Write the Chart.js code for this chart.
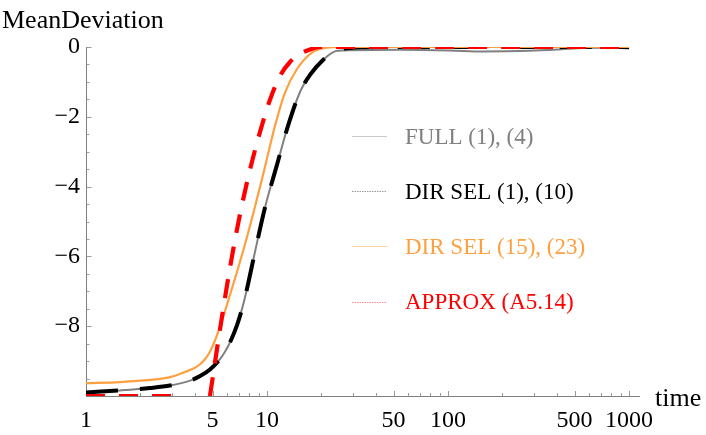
<!DOCTYPE html>
<html>
<head>
<meta charset="utf-8">
<script src="https://cdn.jsdelivr.net/npm/chart.js@4.4.1/dist/chart.umd.min.js"></script>
<style>
  html, body { margin: 0; padding: 0; background: #ffffff; }
  #wrap { width: 706px; height: 435px; position: relative; }
</style>
</head>
<body>
<div id="wrap"><canvas id="c" width="706" height="435"></canvas></div>
<script>
// ---------- data ----------
const fullT = [1, 1.54, 2.26, 2.91, 3.76, 4.27, 4.84, 5.5, 5.86, 6.25, 6.83, 7.37, 7.85, 8.59, 9.75, 11.36, 13.06, 15.22, 17.28, 20.39, 24.37, 28.74, 54, 102, 156, 283, 415, 557, 695, 1000];
const fullY = [-9.9, -9.84, -9.77, -9.7, -9.56, -9.43, -9.24, -8.94, -8.73, -8.46, -7.97, -7.4, -6.8, -5.86, -4.6, -3.37, -2.26, -1.29, -0.8, -0.37, -0.11, -0.09, -0.08, -0.1, -0.13, -0.11, -0.07, -0.03, -0.02, -0.04];

const dirSel1T = [1, 1.54, 2.26, 2.91, 3.76, 4.27, 4.84, 5.5, 5.86, 6.25, 6.83, 7.37, 7.85, 8.59, 9.75, 11.36, 13.06, 15.22, 17.28, 20.39, 24.37, 28.74, 40, 100, 1000];
const dirSel1Y = [-9.9, -9.84, -9.77, -9.7, -9.56, -9.43, -9.24, -8.94, -8.73, -8.46, -7.97, -7.4, -6.8, -5.86, -4.6, -3.37, -2.26, -1.29, -0.8, -0.37, -0.09, -0.03, 0, 0, 0];

const dirSel15T = [1, 1.54, 2.26, 2.91, 3.52, 4.0, 4.27, 4.55, 4.84, 5.16, 5.5, 5.86, 6.49, 7.56, 8.59, 9.75, 11.07, 12.57, 14.65, 17.96, 22.29, 26.97, 100, 1000];
const dirSel15Y = [-9.63, -9.6, -9.54, -9.46, -9.31, -9.19, -9.09, -8.94, -8.73, -8.41, -8.01, -7.57, -6.82, -5.65, -4.57, -3.43, -2.26, -1.31, -0.63, -0.14, -0.01, 0, 0, 0];

const approxT = [1, 2, 3, 4, 4.84, 5.5, 6.25, 7.09, 8.06, 9.15, 10.39, 11.8, 13.4, 15.22, 17.28, 19.63, 30, 100, 1000];
const approxY = [-10, -10, -10, null, -10, -8.09, -6.31, -4.8, -3.51, -2.43, -1.51, -0.83, -0.43, -0.2, -0.07, 0, 0, 0, 0];

const seriesNames = ['FULL (1), (4)', 'DIR SEL (1), (10)', 'DIR SEL (15), (23)', 'APPROX (A5.14)'];

const xMajorTicks = [1, 5, 10, 50, 100, 500, 1000];
const xMinorTicks = [2, 3, 4, 6, 7, 8, 9, 20, 30, 40, 60, 70, 80, 90, 200, 300, 400, 600, 700, 800, 900];
const yMajorTicks = [0, -2, -4, -6, -8];
const yMinorTicks = [-0.5, -1, -1.5, -2.5, -3, -3.5, -4.5, -5, -5.5, -6.5, -7, -7.5, -8.5, -9, -9.5];

const yAxisTitle = 'MeanDeviation';
const xAxisTitle = 'time';

// ---------- helpers ----------
const pts = (ts, ys) => ts.map((t, i) => ({ x: t, y: ys[i] }));
const FONT = '"Liberation Serif", "Times New Roman", serif';

const seriesColors = ['#808080', '#000000', '#FFA040', '#FF0000'];
const legendLineColors = ['#c8c8c8', '#9a9a9a', '#ffd0a0', '#ff9090'];
const legendDash = [[], [1.5, 1], [], [1.5, 1]];

const mmaPlugin = {
  id: 'mmaDecor',
  beforeDatasetsDraw(chart) {
    const { ctx, chartArea: a, scales: { x, y } } = chart;
    ctx.save();
    ctx.lineWidth = 1;
    const axX = Math.round(x.getPixelForValue(1)) + 0.5;
    const axY = Math.round(y.getPixelForValue(-10)) + 0.5;
    ctx.strokeStyle = '#7f7f7f';
    ctx.beginPath();
    ctx.moveTo(a.left, axY); ctx.lineTo(a.right, axY);
    ctx.moveTo(axX, Math.round(y.getPixelForValue(0))); ctx.lineTo(axX, axY);
    ctx.stroke();
    ctx.strokeStyle = '#9a9a9a';
    ctx.beginPath();
    for (const v of xMajorTicks) {
      const p = Math.round(x.getPixelForValue(v)) + 0.5;
      ctx.moveTo(p, axY); ctx.lineTo(p, axY - 5.5);
    }
    for (const v of xMinorTicks) {
      const p = Math.round(x.getPixelForValue(v)) + 0.5;
      ctx.moveTo(p, axY); ctx.lineTo(p, axY - 3.5);
    }
    for (const v of yMajorTicks) {
      const p = Math.round(y.getPixelForValue(v)) + 0.5;
      ctx.moveTo(axX, p); ctx.lineTo(axX + 5, p);
    }
    for (const v of yMinorTicks) {
      const p = Math.round(y.getPixelForValue(v)) + 0.5;
      ctx.moveTo(axX, p); ctx.lineTo(axX + 3, p);
    }
    ctx.stroke();
    ctx.restore();
  },
  afterDraw(chart) {
    const { ctx } = chart;
    ctx.save();
    ctx.fillStyle = '#000';
    ctx.textBaseline = 'alphabetic';
    ctx.textAlign = 'left';
    ctx.font = '26px ' + FONT;
    ctx.fillText(yAxisTitle, 2, 28);
    ctx.fillText(xAxisTitle, 655, 406);
    ctx.font = '23px ' + FONT;
    for (let i = 0; i < seriesNames.length; i++) {
      const base = 143.5 + 55.2 * i;
      const ly = Math.round(base - 7.5) + 0.5;
      ctx.strokeStyle = legendLineColors[i];
      ctx.lineWidth = 1;
      ctx.setLineDash(legendDash[i]);
      ctx.beginPath();
      ctx.moveTo(352, ly); ctx.lineTo(387, ly);
      ctx.stroke();
      ctx.setLineDash([]);
      ctx.fillStyle = seriesColors[i];
      ctx.fillText(seriesNames[i], 405, base);
    }
    ctx.restore();
  }
};

new Chart(document.getElementById('c'), {
  type: 'line',
  data: {
    datasets: [
      { label: seriesNames[0], data: pts(fullT, fullY), borderColor: seriesColors[0], borderWidth: 2, order: 4 },
      { label: seriesNames[1], data: pts(dirSel1T, dirSel1Y), borderColor: seriesColors[1], borderWidth: 4, borderDash: [32, 22], order: 3 },
      { label: seriesNames[2], data: pts(dirSel15T, dirSel15Y), borderColor: seriesColors[2], borderWidth: 2.2, order: 2 },
      { label: seriesNames[3], data: pts(approxT, approxY), borderColor: seriesColors[3], borderWidth: 4.2, borderDash: [19, 14], order: 1, spanGaps: false }
    ]
  },
  options: {
    responsive: false,
    animation: false,
    devicePixelRatio: 1,
    parsing: false,
    elements: {
      point: { radius: 0, hoverRadius: 0 },
      line: { cubicInterpolationMode: 'monotone', fill: false }
    },
    layout: { padding: { top: 47, right: 66, bottom: 0, left: 0 } },
    plugins: { legend: { display: false }, tooltip: { enabled: false }, title: { display: false } },
    events: [],
    scales: {
      x: {
        type: 'logarithmic',
        min: 1,
        max: 1150,
        grid: { display: false, drawTicks: false },
        border: { display: false },
        afterBuildTicks: s => { s.ticks = xMajorTicks.map(v => ({ value: v })); },
        afterFit: s => { s.height = 39; },
        ticks: {
          autoSkip: false, maxRotation: 0, minRotation: 0, padding: 10,
          color: '#000', font: { family: FONT, size: 24 },
          callback: v => String(v)
        }
      },
      y: {
        type: 'linear',
        min: -10,
        max: 0,
        grid: { display: false, drawTicks: false },
        border: { display: false },
        afterBuildTicks: s => { s.ticks = yMajorTicks.map(v => ({ value: v })); },
        afterFit: s => { s.width = 86; },
        ticks: {
          padding: 6, color: '#000', font: { family: FONT, size: 24 },
          callback: v => (v === 0 ? '0' : '\u2212' + Math.abs(v))
        }
      }
    }
  },
  plugins: [mmaPlugin]
});
</script>
</body>
</html>
